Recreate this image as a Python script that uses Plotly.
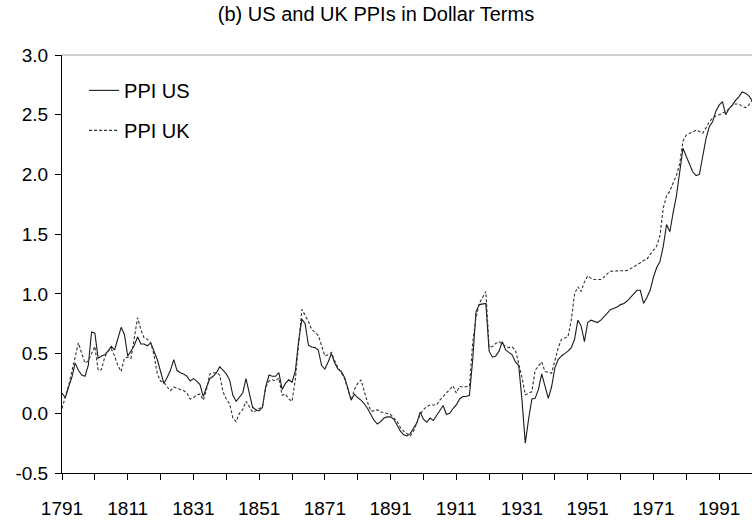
import plotly.graph_objects as go

years = list(range(1791, 2002))

ppi_us = [
    0.17, 0.13, 0.22, 0.30, 0.42, 0.36, 0.32, 0.31, 0.40, 0.68,   # 1791-1800
    0.67, 0.46, 0.48, 0.49, 0.52, 0.56, 0.53, 0.62, 0.72, 0.66,   # 1801-1810
    0.48, 0.52, 0.57, 0.64, 0.58, 0.58, 0.565, 0.59, 0.52, 0.45,  # 1811-1820
    0.35, 0.25, 0.30, 0.36, 0.45, 0.36, 0.34, 0.33, 0.31, 0.27,   # 1821-1830
    0.29, 0.27, 0.24, 0.14, 0.22, 0.29, 0.31, 0.34, 0.39, 0.36,   # 1831-1840
    0.33, 0.28, 0.15, 0.10, 0.14, 0.17, 0.29, 0.18, 0.05, 0.03,   # 1841-1850
    0.02, 0.05, 0.22, 0.32, 0.31, 0.31, 0.34, 0.20, 0.25, 0.28,   # 1851-1860
    0.26, 0.35, 0.60, 0.79, 0.75, 0.57, 0.555, 0.55, 0.53, 0.40,  # 1861-1870
    0.37, 0.43, 0.50, 0.42, 0.37, 0.35, 0.30, 0.21, 0.11, 0.16,   # 1871-1880
    0.13, 0.11, 0.08, 0.04, -0.01, -0.06, -0.09, -0.07, -0.04, -0.03,  # 1881-1890
    -0.03, -0.05, -0.10, -0.15, -0.18, -0.19, -0.17, -0.13, -0.08, 0.01,  # 1891-1900
    -0.05, -0.075, -0.04, -0.06, -0.02, 0.02, 0.065, -0.01, 0.00, 0.04,  # 1901-1910
    0.07, 0.12, 0.14, 0.14, 0.15, 0.45, 0.85, 0.91, 0.915, 0.92,  # 1911-1920
    0.52, 0.47, 0.48, 0.52, 0.60, 0.53, 0.51, 0.49, 0.43, 0.40,   # 1921-1930
    0.11, -0.25, -0.05, 0.12, 0.125, 0.20, 0.33, 0.22, 0.125, 0.22,  # 1931-1940
    0.38, 0.45, 0.48, 0.50, 0.52, 0.55, 0.62, 0.78, 0.73, 0.60,   # 1941-1950
    0.76, 0.78, 0.77, 0.76, 0.78, 0.81, 0.84, 0.87, 0.88, 0.89,   # 1951-1960
    0.91, 0.92, 0.94, 0.97, 1.00, 1.03, 1.03, 0.92, 0.97, 1.03,   # 1961-1970
    1.14, 1.22, 1.27, 1.40, 1.58, 1.52, 1.68, 1.82, 2.02, 2.22,   # 1971-1980
    2.15, 2.08, 2.02, 1.99, 2.00, 2.15, 2.30, 2.40, 2.44, 2.53,   # 1981-1990
    2.58, 2.61, 2.50, 2.55, 2.58, 2.62, 2.65, 2.69, 2.68, 2.66,   # 1991-2000
    2.62,                                                           # 2001
]

ppi_uk = [
    0.04, 0.13, 0.23, 0.35, 0.47, 0.59, 0.50, 0.42, 0.44, 0.50,   # 1791-1800
    0.56, 0.36, 0.365, 0.47, 0.52, 0.54, 0.48, 0.40, 0.35, 0.46,  # 1801-1810
    0.47, 0.46, 0.64, 0.80, 0.70, 0.63, 0.62, 0.59, 0.49, 0.33,   # 1811-1820
    0.27, 0.26, 0.22, 0.19, 0.22, 0.21, 0.20, 0.19, 0.17, 0.12,   # 1821-1830
    0.13, 0.155, 0.16, 0.11, 0.20, 0.33, 0.34, 0.34, 0.32, 0.18,  # 1831-1840
    0.12, 0.08, -0.04, -0.07, 0.00, 0.03, 0.10, 0.05, 0.01, 0.02, # 1841-1850
    0.04, 0.05, 0.22, 0.27, 0.28, 0.27, 0.295, 0.15, 0.16, 0.12,  # 1851-1860
    0.10, 0.28, 0.55, 0.87, 0.82, 0.77, 0.70, 0.68, 0.65, 0.57,   # 1861-1870
    0.48, 0.49, 0.51, 0.44, 0.38, 0.34, 0.29, 0.20, 0.11, 0.20,   # 1871-1880
    0.25, 0.28, 0.18, 0.09, 0.02, 0.02, 0.03, 0.01, 0.005, 0.00,  # 1881-1890
    -0.01, -0.04, -0.07, -0.12, -0.15, -0.17, -0.19, -0.15, -0.08, -0.01,  # 1891-1900
    0.03, 0.057, 0.07, 0.07, 0.07, 0.11, 0.14, 0.17, 0.20, 0.23,  # 1901-1910
    0.17, 0.225, 0.22, 0.22, 0.225, 0.59, 0.80, 0.92, 0.97, 1.02, # 1911-1920
    0.55, 0.56, 0.585, 0.60, 0.58, 0.56, 0.55, 0.555, 0.53, 0.42, # 1921-1930
    0.30, 0.155, 0.17, 0.18, 0.36, 0.40, 0.43, 0.35, 0.34, 0.335, # 1931-1940
    0.44, 0.545, 0.62, 0.63, 0.64, 0.78, 1.00, 1.06, 1.02, 1.10,  # 1941-1950
    1.15, 1.13, 1.12, 1.12, 1.12, 1.14, 1.17, 1.19, 1.19, 1.195,  # 1951-1960
    1.195, 1.195, 1.195, 1.21, 1.225, 1.24, 1.26, 1.28, 1.29, 1.33,  # 1961-1970
    1.37, 1.40, 1.49, 1.72, 1.82, 1.86, 1.93, 1.99, 2.09, 2.28,   # 1971-1980
    2.33, 2.345, 2.36, 2.37, 2.36, 2.345, 2.39, 2.44, 2.47, 2.49, # 1981-1990
    2.50, 2.51, 2.525, 2.55, 2.58, 2.59, 2.59, 2.57, 2.56, 2.58,  # 1991-2000
    2.62,                                                           # 2001
]

x_tick_years = list(range(1791, 2002, 10))
x_tick_labels = ["1791", "", "1811", "", "1831", "", "1851", "", "1871", "",
                 "1891", "", "1911", "", "1931", "", "1951", "", "1971", "",
                 "1991", ""]
y_tick_values = [-0.5, 0.0, 0.5, 1.0, 1.5, 2.0, 2.5, 3.0]
y_tick_labels = ["-0.5", "0.0", "0.5", "1.0", "1.5", "2.0", "2.5", "3.0"]

FONT = "Liberation Sans"

fig = go.Figure()
fig.add_trace(go.Scatter(
    x=years, y=ppi_us, mode="lines", name="PPI US", legendgroup="us",
    line=dict(color="#1a1a1a", width=1.1),
))
fig.add_trace(go.Scatter(
    x=years, y=ppi_uk, mode="lines", name="PPI UK", legendgroup="uk",
    line=dict(color="#333333", width=1.1, dash="3px,2px"),
))

fig.update_layout(
    width=752, height=522,
    margin=dict(l=62, r=0, t=55, b=49),
    paper_bgcolor="white", plot_bgcolor="white",
    hovermode=False,
    font=dict(family=FONT, color="black", size=19),
    title=dict(text="(b) US and UK PPIs in Dollar Terms", x=0.5, xref="container",
               xanchor="center", y=0.973, yanchor="middle",
               font=dict(family=FONT, size=20, color="black")),
    showlegend=True,
    legend=dict(x=0.032, y=0.962, xanchor="left", yanchor="top",
                bgcolor="rgba(0,0,0,0)", font=dict(family=FONT, size=20),
                tracegroupgap=11, itemwidth=30),
    xaxis=dict(range=[1791, 2001], tickmode="array", tickvals=x_tick_years,
               ticktext=x_tick_labels, ticks="outside", ticklen=6, tickwidth=1,
               tickcolor="black", showline=True, linecolor="black", linewidth=1,
               showgrid=False, zeroline=False, ticklabelstandoff=12,
               tickfont=dict(family=FONT, size=19)),
    yaxis=dict(range=[-0.5, 3.0], tickmode="array", tickvals=y_tick_values,
               ticktext=y_tick_labels, ticks="outside", ticklen=6, tickwidth=1,
               tickcolor="black", showline=True, linecolor="black", linewidth=1,
               showgrid=False, zeroline=False, ticklabelstandoff=3,
               tickfont=dict(family=FONT, size=19)),
    shapes=[dict(type="line", xref="paper", yref="paper", x0=0, x1=1, y0=1, y1=1,
                 line=dict(color="#a0a0a0", width=1))],
)

# remove the browser's default 8px body margin so the figure fills the window
fig.write_html("out.html",
               config={"displayModeBar": False, "staticPlot": True},
               post_script="document.body.style.margin='0px';document.body.style.overflow='hidden';")
